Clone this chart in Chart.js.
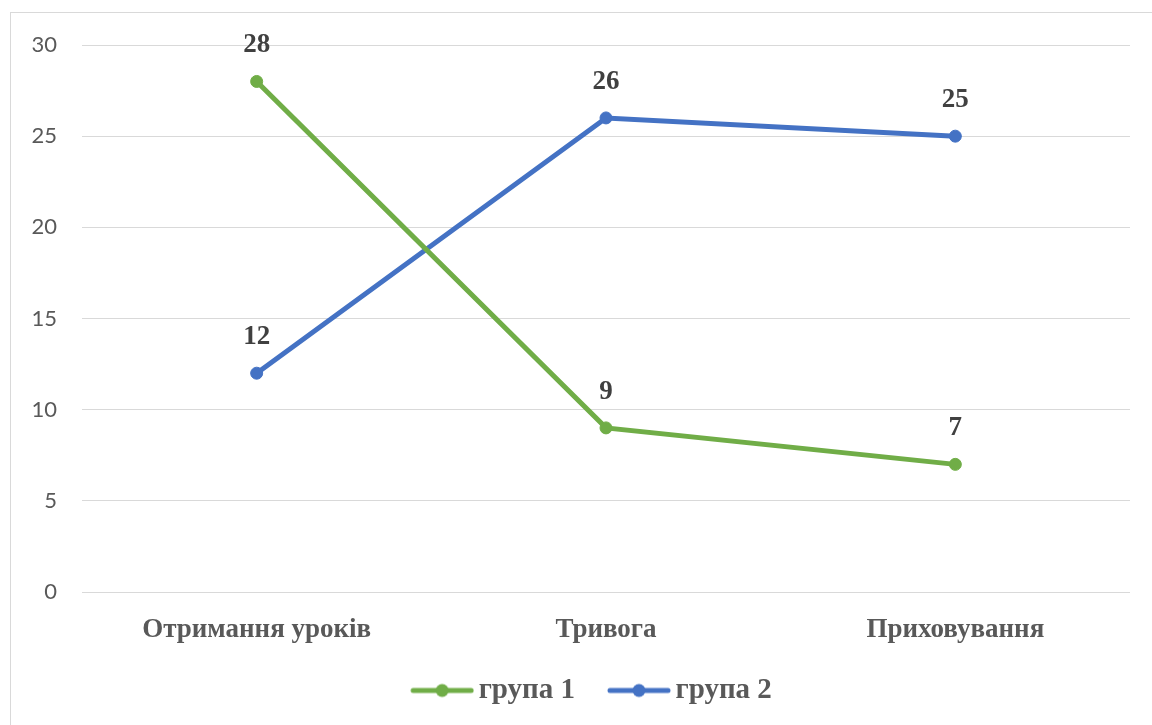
<!DOCTYPE html>
<html>
<head>
<meta charset="utf-8">
<script src="https://cdn.jsdelivr.net/npm/chart.js@4/dist/chart.umd.min.js"></script>
<style>
  html, body { margin: 0; padding: 0; background: #fff; overflow: hidden; }
  #wrap { position: relative; width: 1152px; height: 725px; }
  #frame { position: absolute; left: 10px; top: 12px; width: 1200px; height: 800px;
           border: 1px solid #d9d9d9; box-sizing: border-box; }
  canvas { position: absolute; left: 0; top: 0; }
</style>
</head>
<body>
<div id="wrap">
  <div id="frame"></div>
  <canvas id="chart" width="1152" height="725"></canvas>
</div>
<script>
// Categories and series
const categories = ['Отримання уроків', 'Тривога', 'Приховування'];
const group1 = [28, 9, 7];
const group2 = [12, 26, 25];
const seriesNames = ['група 1', 'група 2'];
const yTicks = [0, 5, 10, 15, 20, 25, 30];

const GREEN = '#70AD47';
const BLUE = '#4472C4';
const SERIF = '"Liberation Serif", "Times New Roman", serif';

// Legend marker: transparent lead-in, then a short line with a dot in its middle
function legendMarker(color) {
  const lead = 32, len = 64;
  const c = document.createElement('canvas');
  c.width = lead + len; c.height = 16;
  const g = c.getContext('2d');
  g.strokeStyle = color; g.lineWidth = 5; g.lineCap = 'round';
  g.beginPath(); g.moveTo(lead + 3, 8); g.lineTo(lead + len - 3, 8); g.stroke();
  g.fillStyle = color;
  g.beginPath(); g.arc(lead + len / 2, 8, 6.5, 0, Math.PI * 2); g.fill();
  return c;
}

// Value labels above each point
const valueLabels = {
  id: 'valueLabels',
  afterDatasetsDraw(chart) {
    const ctx = chart.ctx;
    ctx.save();
    ctx.font = 'bold 27px ' + SERIF;
    ctx.fillStyle = '#404040';
    ctx.textAlign = 'center';
    ctx.textBaseline = 'middle';
    chart.data.datasets.forEach((ds, i) => {
      const meta = chart.getDatasetMeta(i);
      meta.data.forEach((pt, j) => {
        ctx.fillText(String(ds.data[j]), pt.x, pt.y - 36);
      });
    });
    ctx.restore();
  }
};

new Chart(document.getElementById('chart'), {
  type: 'line',
  data: {
    labels: categories,
    datasets: [
      {
        label: seriesNames[0], data: group1,
        borderColor: GREEN, backgroundColor: GREEN,
        borderWidth: 5, pointRadius: 6, pointBorderWidth: 1,
        pointBackgroundColor: GREEN, pointBorderColor: GREEN,
        tension: 0, marker: legendMarker(GREEN)
      },
      {
        label: seriesNames[1], data: group2,
        borderColor: BLUE, backgroundColor: BLUE,
        borderWidth: 5, pointRadius: 6, pointBorderWidth: 1,
        pointBackgroundColor: BLUE, pointBorderColor: BLUE,
        tension: 0, marker: legendMarker(BLUE)
      }
    ]
  },
  options: {
    responsive: false,
    animation: false,
    devicePixelRatio: 1,
    layout: { padding: { left: 30, right: 22, top: 45, bottom: 10 } },
    plugins: {
      tooltip: { enabled: false },
      legend: {
        position: 'bottom',
        labels: {
          usePointStyle: true,
          pointStyleWidth: 76,
          padding: 10,
          color: '#595959',
          font: { family: SERIF, size: 29, weight: 'bold' },
          generateLabels(chart) {
            return chart.data.datasets.map((ds, i) => ({
              text: ds.label,
              pointStyle: ds.marker,
              fillStyle: ds.borderColor,
              strokeStyle: ds.borderColor,
              lineWidth: 0,
              fontColor: '#595959',
              hidden: false,
              datasetIndex: i
            }));
          }
        }
      }
    },
    scales: {
      x: {
        offset: true,
        grid: { display: false, drawTicks: false },
        border: { display: false },
        afterFit(scale) { scale.height = 74; },
        ticks: {
          padding: 22,
          maxRotation: 0,
          color: '#595959',
          font: { family: SERIF, size: 27, weight: 'bold' }
        }
      },
      y: {
        min: 0, max: 30,
        afterFit(scale) { scale.width = 52; },
        afterBuildTicks(scale) { scale.ticks = yTicks.map(v => ({ value: v })); },
        grid: { color: '#d9d9d9', lineWidth: 1, drawTicks: false },
        border: { display: false },
        ticks: {
          padding: 25,
          color: '#595959',
          font: { family: 'Lato, "Liberation Sans", sans-serif', size: 22 }
        }
      }
    }
  },
  plugins: [valueLabels]
});
</script>
</body>
</html>
